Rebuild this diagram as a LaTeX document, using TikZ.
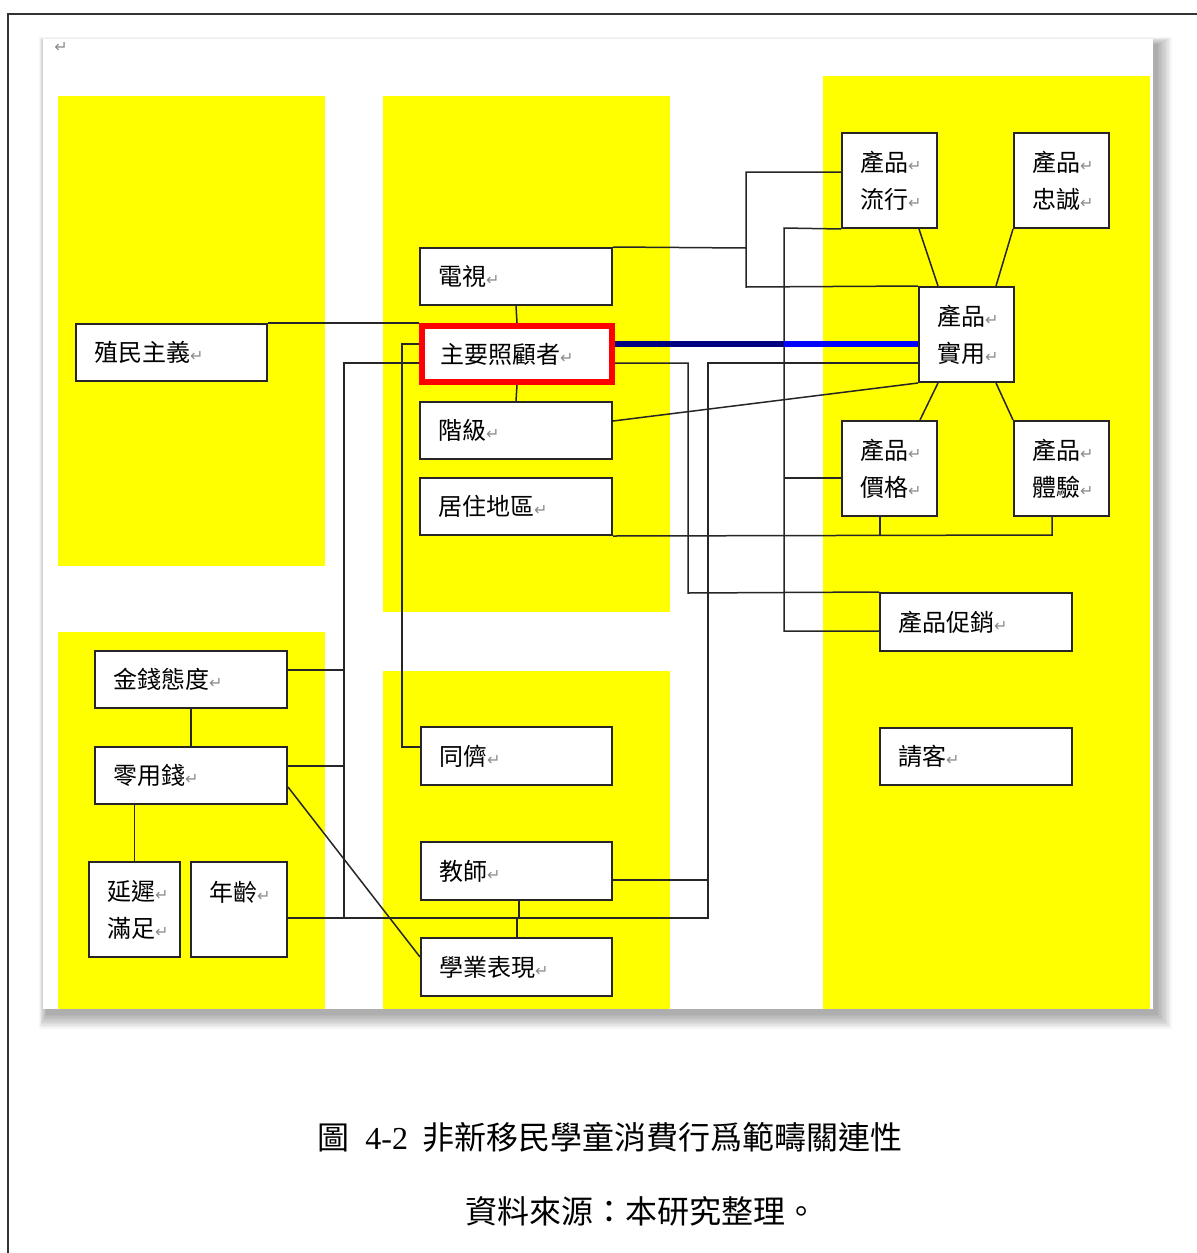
\documentclass[tikz,border=0pt]{standalone}
\usepackage{fontspec}
\setmainfont{Liberation Serif}
\newfontfamily\cjk{Noto Sans CJK TC}
\newfontfamily\dejavu{DejaVu Sans}
\definecolor{pureyellow}{RGB}{255,255,0}
\definecolor{navyline}{RGB}{0,0,128}
\definecolor{blueline}{RGB}{0,0,255}
\newcommand\ret{{\dejavu\color{black!45}\fontsize{8}{8}\selectfont ↵}}
\tikzset{
  ybg/.style={fill=pureyellow, draw=none},
  box/.style={draw=black!85, line width=1pt, fill=white, inner xsep=9pt, inner ysep=0pt,
    align=left, font=\cjk\fontsize{12}{18.5}\selectfont},
  conn/.style={draw=black!85, line width=0.75pt},
  capfont/.style={font=\cjk\fontsize{16}{16}\selectfont, inner sep=0pt},
}
\newcommand\BoxN[7]{%
  \pgfmathsetmacro\bw{(#5-#3)*0.5}%
  \pgfmathsetmacro\bh{(#6-#4)*0.5}%
  \pgfmathsetmacro\tw{(#5-#3)*0.5-18}%
  \node[box,#1,minimum width=\bw pt,minimum height=\bh pt,text width=\tw pt] (#2) at ({(#3+#5)/2},{(#4+#6)/2}) {#7};}
\begin{document}
\begin{tikzpicture}[x=0.5pt,y=-0.5pt]
\useasboundingbox (0,0) rectangle (1197,1253);
\fill[white] (0,0) rectangle (1197,1253);
% outer frame
\draw[line width=1pt, black!80] (8,1253) -- (8,14) -- (1197,14);
% page shadow
\foreach \i in {1,...,10}{
  \fill[black, opacity=0.035] ({43-\i*0.8+4},{39-\i*0.8+6}) rectangle ({1153+\i*1.6+3},{1009+\i*1.6+4});
}
\fill[white] (43,39) rectangle (1153,1009);
\node[inner sep=0pt, font=\dejavu\fontsize{8}{8}\selectfont, text=black!45] (pmark) at (61,47) {↵};
% yellow areas
\fill[ybg] (58,96) rectangle (325,566);
\fill[ybg] (383,96) rectangle (670,612);
\fill[ybg] (58,632) rectangle (325,1009);
\fill[ybg] (383,671) rectangle (670,1009);
\fill[ybg] (823,76) rectangle (1150,1009);
% boxes
\BoxN{}{zm}{76}{324}{267}{381}{殖民主義\ret}
\BoxN{}{ds}{420}{248}{612}{305}{電視\ret}
\BoxN{draw=red, line width=3pt}{zhu}{422}{326}{612}{382}{主要照顧者\ret}
\BoxN{}{jj}{420}{402}{612}{459}{階級\ret}
\BoxN{}{jz}{420}{478}{612}{535}{居住地區\ret}
\BoxN{}{lx}{842}{133}{937}{228}{產品\ret\\流行\ret}
\BoxN{}{zc}{1014}{133}{1109}{228}{產品\ret\\忠誠\ret}
\BoxN{}{sy}{919}{287}{1014}{382}{產品\ret\\實用\ret}
\BoxN{}{jg}{842}{421}{937}{516}{產品\ret\\價格\ret}
\BoxN{}{ty}{1014}{421}{1109}{516}{產品\ret\\體驗\ret}
\BoxN{}{cx}{880}{593}{1072}{651}{產品促銷\ret}
\BoxN{}{qk}{880}{728}{1072}{785}{請客\ret}
\BoxN{}{jq}{95}{651}{287}{708}{金錢態度\ret}
\BoxN{}{lyq}{95}{747}{287}{804}{零用錢\ret}
\BoxN{}{yc}{89}{862}{180}{957}{延遲\ret\\滿足\ret}
\BoxN{}{nl}{191}{862}{287}{957}{年齡\ret\\\mbox{}}
\BoxN{}{tong}{421}{727}{612}{785}{同儕\ret}
\BoxN{}{js}{421}{842}{612}{900}{教師\ret}
\BoxN{}{xy}{421}{938}{612}{996}{學業表現\ret}
% connectors
\draw[conn] (zm.north east) -- (zm.north east -| zhu.west);
\draw[conn] (zhu.west |- 0,344) -- (402,344) -- (402,747) -- (tong.west |- 0,747);
\draw[conn] (zhu.west |- 0,363) -- (344,363) -- (344,918);
\draw[conn] (jq.east |- 0,670) -- (344,670);
\draw[conn] (lyq.east |- 0,766) -- (344,766);
\draw[conn] (nl.east |- 0,918) -- (708,918) -- (708,363) -- (sy.west |- 0,363);
\draw[conn] (js.east |- 0,880) -- (708,880);
\draw[conn] (zhu.east |- 0,363) -- (688,363) -- (688,593) -- (cx.north west);
\draw[conn] (ds.north east) -- (746,248) -- (746,172) -- (lx.west |- 0,172);
\draw[conn] (746,248) -- (746,287) -- (sy.north west);
\draw[conn] (lx.south west) -- (784,228) -- (784,631) -- (cx.west |- 0,631);
\draw[conn] (jg.west |- 0,478) -- (784,478);
\draw[conn] (jz.south east) -- (1052,535) -- (1052,0 |- ty.south);
\draw[conn] (880,0 |- jg.south) -- (880,535);
\draw[conn] (jj.east |- 0,421) -- (sy.south west);
\draw[conn] (919,0 |- lx.south) -- (938,0 |- sy.north);
\draw[conn] (zc.south west) -- (996,0 |- sy.north);
\draw[conn] (938,0 |- sy.south) -- (920,0 |- jg.north);
\draw[conn] (996,0 |- sy.south) -- (ty.north west);
\draw[conn] (ds.south) -- (zhu.north);
\draw[conn] (zhu.south) -- (jj.north);
\draw[conn] (jq.south) -- (lyq.north);
\draw[conn] (yc.north |- lyq.south) -- (yc.north);
\draw[conn] (lyq.east |- 0,787) -- (xy.west |- 0,957);
\draw[conn] (519,0 |- js.south) -- (519,918);
\draw[conn] (517,918) -- (517,0 |- xy.north);
% thick blue link
\draw[line width=3pt, navyline] (zhu.east |- 0,344) -- (784,344);
\draw[line width=3pt, blueline] (784,344) -- (sy.west |- 0,344);
% caption
\node[capfont, anchor=base west] (cap1) at (317,1149) {圖};
\node[inner sep=0pt, font=\fontsize{16}{16}\selectfont, anchor=base west] (cap2) at (365,1149) {4-2};
\node[capfont, anchor=base west] (cap3) at (422,1149) {非新移民學童消費行爲範疇關連性};
\node[capfont, anchor=base west] (cap4) at (465,1223) {資料來源：本研究整理。};
\end{tikzpicture}
\end{document}
